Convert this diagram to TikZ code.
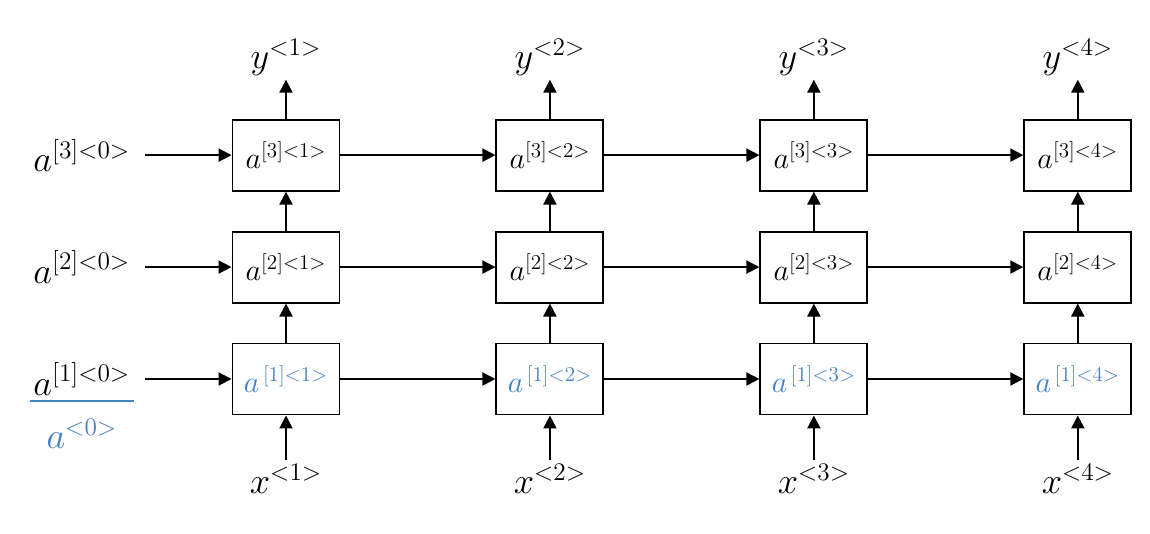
\documentclass[tikz,border=0pt]{standalone}
\usepackage{amsmath}
\usetikzlibrary{arrows.meta,positioning}
\definecolor{pen}{RGB}{68,128,196}

\begin{document}
\begin{tikzpicture}[
  node distance=0.78cm and 3.1cm,
  cell/.style={draw,line width=1.1pt,line join=miter,minimum width=2.14cm,minimum height=1.42cm,
    inner sep=0pt,font=\LARGE},
  lbl/.style={font=\huge,inner sep=2pt},
  init/.style={font=\huge,inner ysep=3pt,inner xsep=8pt},
  ink/.style={text=pen,font=\LARGE},
  arr/.style={-{Triangle[length=2.6mm,width=2.6mm]},line width=1.1pt}
]
\useasboundingbox (0,0) rectangle (23,10.68);
% layer 1 (bottom row), handwritten in blue
\node[cell] (c11) at (5.72,3.1) {};
\node[cell,right=of c11] (c12) {};
\node[cell,right=of c12] (c13) {};
\node[cell,right=of c13] (c14) {};
\node[ink] at (c11) {$a^{\,[1]<1>}$};
\node[ink] at (c12) {$a^{\,[1]<2>}$};
\node[ink] at (c13) {$a^{\,[1]<3>}$};
\node[ink] at (c14) {$a^{\,[1]<4>}$};
% layer 2
\node[cell,above=of c11] (c21) {$a^{[2]<1>}$};
\node[cell,above=of c12] (c22) {$a^{[2]<2>}$};
\node[cell,above=of c13] (c23) {$a^{[2]<3>}$};
\node[cell,above=of c14] (c24) {$a^{[2]<4>}$};
% layer 3
\node[cell,above=of c21] (c31) {$a^{[3]<1>}$};
\node[cell,above=of c22] (c32) {$a^{[3]<2>}$};
\node[cell,above=of c23] (c33) {$a^{[3]<3>}$};
\node[cell,above=of c24] (c34) {$a^{[3]<4>}$};
% outputs and inputs
\node[lbl,above=0.78cm of c31] (y1) {$y^{<1>}$};
\node[lbl,above=0.78cm of c32] (y2) {$y^{<2>}$};
\node[lbl,above=0.78cm of c33] (y3) {$y^{<3>}$};
\node[lbl,above=0.78cm of c34] (y4) {$y^{<4>}$};
\node[lbl,below=0.9cm of c11] (x1) {$x^{<1>}$};
\node[lbl,below=0.9cm of c12] (x2) {$x^{<2>}$};
\node[lbl,below=0.9cm of c13] (x3) {$x^{<3>}$};
\node[lbl,below=0.9cm of c14] (x4) {$x^{<4>}$};
% initial activations
\node[init,left=1.74cm of c31] (a30) {$a^{[3]<0>}$};
\node[init,left=1.74cm of c21] (a20) {$a^{[2]<0>}$};
\node[init,left=1.74cm of c11] (a10) {$a^{[1]<0>}$};
\node[ink,font=\huge,below=0.25cm of a10] (a0) {$a^{<0>}$};
\draw[pen,line width=1pt,shorten <=6pt,shorten >=6pt] (a10.south west) -- (a10.south east);
\draw[arr] (a30)--(c31);
\draw[arr] (a20)--(c21);
\draw[arr] (a10)--(c11);
\draw[arr] (c31)--(c32); \draw[arr] (c32)--(c33); \draw[arr] (c33)--(c34);
\draw[arr] (c21)--(c22); \draw[arr] (c22)--(c23); \draw[arr] (c23)--(c24);
\draw[arr] (c11)--(c12); \draw[arr] (c12)--(c13); \draw[arr] (c13)--(c14);
\draw[arr] (x1)--(c11); \draw[arr] (c11)--(c21); \draw[arr] (c21)--(c31); \draw[arr] (c31)--(y1);
\draw[arr] (x2)--(c12); \draw[arr] (c12)--(c22); \draw[arr] (c22)--(c32); \draw[arr] (c32)--(y2);
\draw[arr] (x3)--(c13); \draw[arr] (c13)--(c23); \draw[arr] (c23)--(c33); \draw[arr] (c33)--(y3);
\draw[arr] (x4)--(c14); \draw[arr] (c14)--(c24); \draw[arr] (c24)--(c34); \draw[arr] (c34)--(y4);
\end{tikzpicture}
\end{document}
